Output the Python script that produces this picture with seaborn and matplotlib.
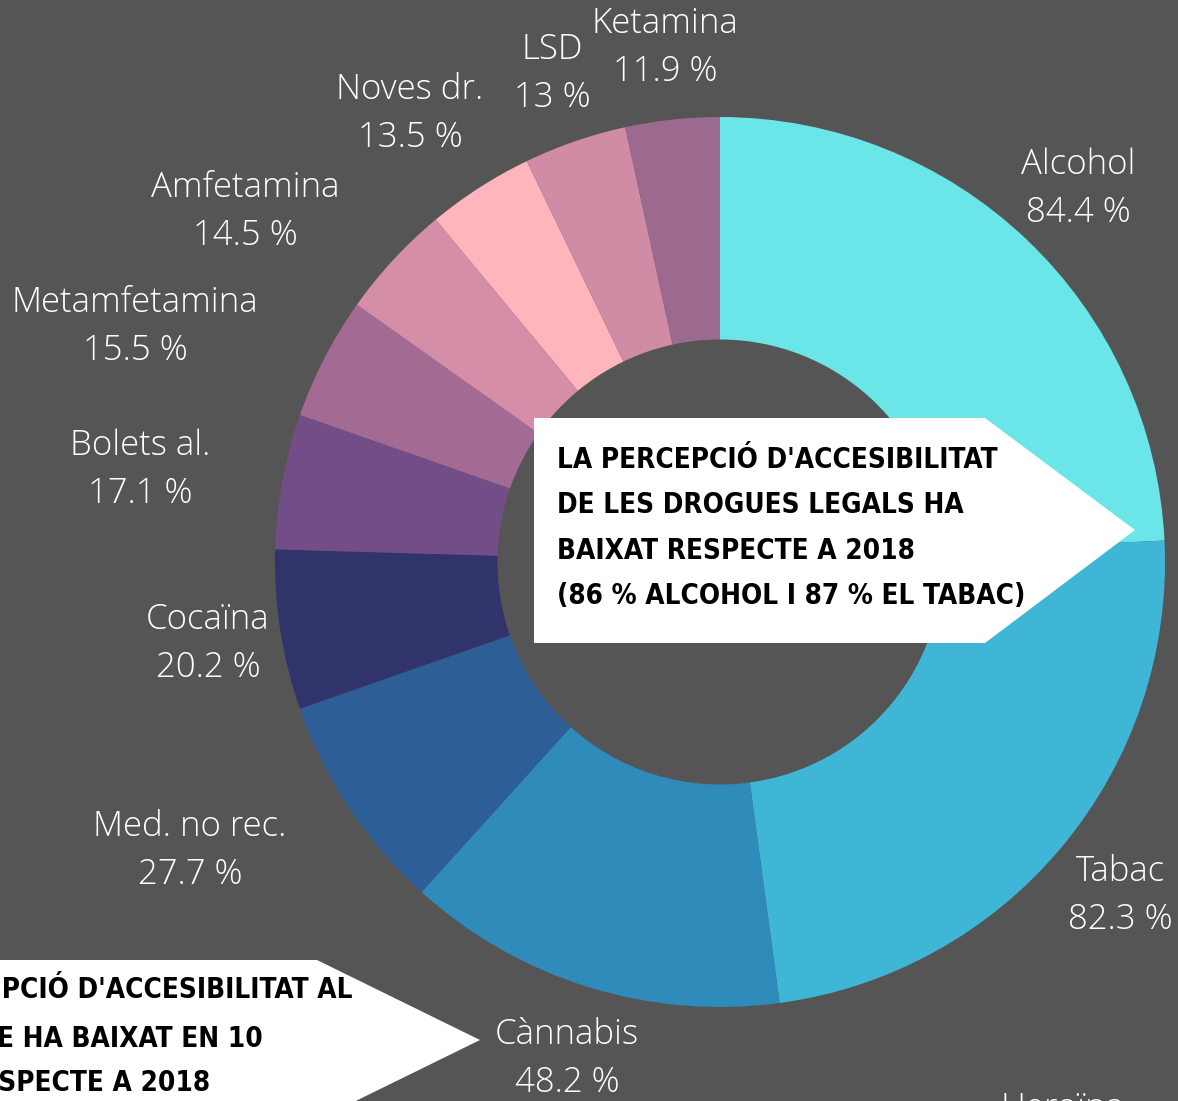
import matplotlib
matplotlib.use("Agg")
import matplotlib.pyplot as plt
from matplotlib.patches import Polygon
import seaborn as sns

# data
drugs = ["Alcohol", "Tabac", "Cànnabis", "Med. no rec.", "Cocaïna", "Bolets al.",
         "Metamfetamina", "Amfetamina", "Noves dr.", "LSD", "Ketamina"]
pct = [84.4, 82.3, 48.2, 27.7, 20.2, 17.1, 15.5, 14.5, 13.5, 13.0, 11.9]
pct_txt = ["84.4 %", "82.3 %", "48.2 %", "27.7 %", "20.2 %", "17.1 %",
           "15.5 %", "14.5 %", "13.5 %", "13 %", "11.9 %"]
colors = ["#6AE5E8", "#40B6D6", "#2E8BBA", "#2E5E98", "#31346B", "#734D87",
          "#A36A94", "#D48EA8", "#FFB5BB", "#D08BA5", "#9B6A8E"]

note1 = "LA PERCEPCIÓ D'ACCESIBILITAT\nDE LES DROGUES LEGALS HA\nBAIXAT RESPECTE A 2018\n(86 % ALCOHOL I 87 % EL TABAC)"
note2 = ["LA PERCEPCIÓ D'ACCESIBILITAT AL", "CÀNNABIS DE LA GENT JOVE HA BAIXAT EN 10",
         "PUNTS RESPECTE A 2018"]

# layout (pixels in the 1178x1101 canvas)
W, H = 1178, 1101
cx, cy, R = 720, 562, 445
label_px = [(1078, 189), (1120, 896), (567, 1059), (190, 851), (208, 644), (140, 470),
            (135, 327), (245, 212), (410, 114), (552, 74), (665, 48)]
bg = "#555555"

sns.set_theme(style="white", rc={"figure.facecolor": bg, "axes.facecolor": bg})
plt.rcParams["font.family"] = ["Open Sans", "DejaVu Sans"]


def to_data(px, py):
    return (px - cx) / R, (cy - py) / R


fig = plt.figure(figsize=(W / 100, H / 100), dpi=100)
ax = fig.add_axes([0, 0, 1, 1])
ax.set_facecolor(bg)

ax.pie(pct, colors=colors, startangle=90, counterclock=False, radius=1,
       wedgeprops=dict(width=0.5, linewidth=0))

for name, t, (px, py) in zip(drugs, pct_txt, label_px):
    x, y = to_data(px, py)
    ax.text(x, y, f"{name}\n{t}", ha="center", va="center", color="white",
            fontsize=25, fontweight="light", linespacing=1.5)

# cut label at the bottom right
x, y = to_data(1062, 1118)
ax.text(x, y, "Heroïna", ha="center", va="baseline", color="white",
        fontsize=25, fontweight="light")

# white arrow boxes
arrow1 = [(534, 418), (985, 418), (1135, 530), (985, 643), (534, 643)]
arrow2 = [(-20, 960), (317, 960), (480, 1040), (317, 1120), (-20, 1120)]
for pts in (arrow1, arrow2):
    ax.add_patch(Polygon([to_data(*p) for p in pts], closed=True,
                         facecolor="white", edgecolor="none", zorder=5))

bold_font = ["DejaVu Sans"]
x, y = to_data(557, 528)
ax.text(x, y, note1, ha="left", va="center", color="black", fontsize=20,
        fontweight="bold", fontstretch="condensed", family=bold_font,
        linespacing=1.78, zorder=6)
for line, (px, py) in zip(note2, [(352, 990), (263, 1037), (210, 1083)]):
    x, y = to_data(px, py)
    ax.text(x, y, line, ha="right", va="center", color="black", fontsize=20,
            fontweight="bold", fontstretch="condensed", family=bold_font, zorder=6)

ax.set_xlim(to_data(0, 0)[0], to_data(W, 0)[0])
ax.set_ylim(to_data(0, H)[1], to_data(0, 0)[1])
ax.set_aspect("auto")
ax.axis("off")

fig.savefig("out.png", dpi=100, facecolor=bg)
